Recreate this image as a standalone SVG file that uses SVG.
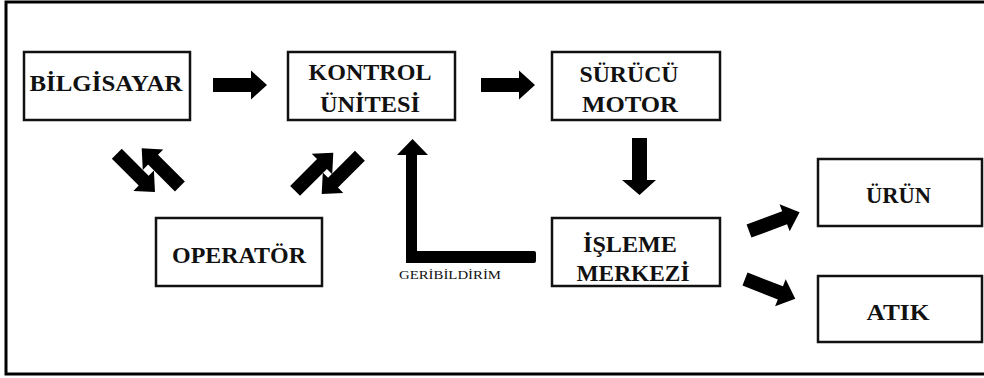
<svg xmlns="http://www.w3.org/2000/svg" xmlns:xlink="http://www.w3.org/1999/xlink" width="984" height="378" viewBox="0 0 984 378">
<style>
.box{fill:#fff;stroke:#111;stroke-width:2.5}
.lbl{font-weight:bold;font-size:23px;fill:#111;text-anchor:middle}
.small{font-size:13px;fill:#111}
.arr{fill:#000}
</style>
<defs>
<path id="arr" d="M0,-7 L38,-7 L38,-14.5 L54,0 L38,14.5 L38,7 L0,7 Z"/>
</defs>
<rect x="6" y="2" width="984" height="372" fill="#fff" stroke="#000" stroke-width="3"/>
<g id="connectors" class="arr">
<use xlink:href="#arr" href="#arr" transform="translate(213,85)"/>
<use xlink:href="#arr" href="#arr" transform="translate(481,85)"/>
<path d="M632,138 L647,138 L647,180 L656,180 L639.5,195 L622,180 L632,180 Z"/>
<use xlink:href="#arr" href="#arr" transform="translate(116.8,153.8) rotate(45)"/>
<use xlink:href="#arr" href="#arr" transform="translate(179.9,186.5) rotate(225)"/>
<use xlink:href="#arr" href="#arr" transform="translate(295.1,190.9) rotate(-45)"/>
<use xlink:href="#arr" href="#arr" transform="translate(359.9,155.8) rotate(135)"/>
<path d="M534,251 Q536,251 536,253 L536,261 Q536,263 534,263 L406,263 L406,155 L397,155 L412.5,139 L428,155 L417,155 L417,251 Z"/>
<use xlink:href="#arr" href="#arr" transform="translate(749,231) rotate(-20.4)"/>
<use xlink:href="#arr" href="#arr" transform="translate(745,279) rotate(21.4)"/>
<text class="small" font-family="Liberation Serif, DejaVu Serif, serif" x="399" y="279" textLength="102" lengthAdjust="spacingAndGlyphs">GERİBİLDİRİM</text>
</g>
<g id="bilgisayar" font-family="Liberation Serif, DejaVu Serif, serif">
<rect class="box" x="24" y="52" width="166" height="68"/>
<text class="lbl" x="106" y="90.5" textLength="153" lengthAdjust="spacingAndGlyphs">BİLGİSAYAR</text>
</g>
<g id="kontrol" font-family="Liberation Serif, DejaVu Serif, serif">
<rect class="box" x="288" y="52" width="167" height="68"/>
<text class="lbl" x="370" y="80" textLength="123" lengthAdjust="spacingAndGlyphs">KONTROL</text>
<text class="lbl" x="370" y="111.5" textLength="100" lengthAdjust="spacingAndGlyphs">ÜNİTESİ</text>
</g>
<g id="surucu" font-family="Liberation Serif, DejaVu Serif, serif">
<rect class="box" x="552" y="52" width="168" height="68"/>
<text class="lbl" x="629" y="82" textLength="99" lengthAdjust="spacingAndGlyphs">SÜRÜCÜ</text>
<text class="lbl" x="630" y="111.5" textLength="96" lengthAdjust="spacingAndGlyphs">MOTOR</text>
</g>
<g id="operator" font-family="Liberation Serif, DejaVu Serif, serif">
<rect class="box" x="156" y="218" width="166" height="68"/>
<text class="lbl" x="239" y="263" textLength="134" lengthAdjust="spacingAndGlyphs">OPERATÖR</text>
</g>
<g id="isleme" font-family="Liberation Serif, DejaVu Serif, serif">
<rect class="box" x="552" y="218" width="168" height="68"/>
<text class="lbl" x="630" y="251.5" textLength="94" lengthAdjust="spacingAndGlyphs">İŞLEME</text>
<text class="lbl" x="633" y="281" textLength="113" lengthAdjust="spacingAndGlyphs">MERKEZİ</text>
</g>
<g id="urun" font-family="Liberation Serif, DejaVu Serif, serif">
<rect class="box" x="818" y="159" width="164" height="67"/>
<text class="lbl" x="898.5" y="203" textLength="65" lengthAdjust="spacingAndGlyphs">ÜRÜN</text>
</g>
<g id="atik" font-family="Liberation Serif, DejaVu Serif, serif">
<rect class="box" x="818" y="276" width="164" height="66"/>
<text class="lbl" x="898" y="319.5" textLength="63" lengthAdjust="spacingAndGlyphs">ATIK</text>
</g>
</svg>
